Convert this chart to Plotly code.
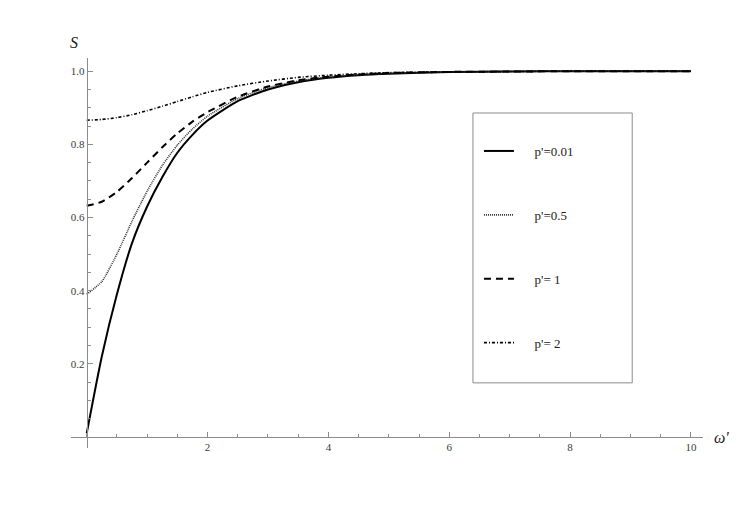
import plotly.graph_objects as go

# ── Data (ω' vs S for four p' values) ────────────────────────────────────────

OMEGA = [0, 0.25, 0.5, 0.75, 1, 1.25, 1.5, 1.75, 2, 2.5, 3, 3.5, 4, 4.5,
         5, 6, 7, 8, 9, 10]

S_P001 = [0.01, 0.22, 0.39, 0.53, 0.63, 0.71, 0.777, 0.826, 0.865, 0.918,
          0.950, 0.970, 0.982, 0.989, 0.993, 0.9975, 0.999, 1.0, 1.0, 1.0]
S_P05 = [0.39, 0.425, 0.50, 0.59, 0.672, 0.742, 0.798, 0.842, 0.877, 0.925,
         0.955, 0.973, 0.984, 0.990, 0.994, 0.998, 0.999, 1.0, 1.0, 1.0]
S_P1 = [0.632, 0.643, 0.670, 0.708, 0.750, 0.792, 0.830, 0.862, 0.888, 0.930,
        0.958, 0.975, 0.985, 0.991, 0.995, 0.998, 0.999, 1.0, 1.0, 1.0]
S_P2 = [0.866, 0.868, 0.873, 0.881, 0.892, 0.904, 0.917, 0.930, 0.942, 0.960,
        0.973, 0.983, 0.989, 0.993, 0.996, 0.998, 0.999, 1.0, 1.0, 1.0]

SERIES = [
    ("p'=0.01", S_P001),
    ("p'=0.5", S_P05),
    ("p'= 1", S_P1),
    ("p'= 2", S_P2),
]

X_TICKS = [2, 4, 6, 8, 10]
Y_TICKS = [0.2, 0.4, 0.6, 0.8, 1.0]

# ── Styling ──────────────────────────────────────────────────────────────────

SERIF = "Liberation Serif"
AXIS_GRAY = "#8c8c8c"
LABEL_COLOR = "#3a3a3a"
GAP = "\u2003\u2009"

LINE_STYLES = [
    dict(color="#000000", width=2, dash="solid"),
    dict(color="#333333", width=1.6, dash="1px,1px"),
    dict(color="#000000", width=2, dash="7px,5px"),
    dict(color="#000000", width=1.6, dash="3px,2px,1px,2px"),
]

X_RANGE = [-0.26, 10.2]
Y_RANGE = [-0.03, 1.036]

fig = go.Figure()
for i, ((name, values), style) in enumerate(zip(SERIES, LINE_STYLES)):
    fig.add_trace(
        go.Scatter(
            x=OMEGA,
            y=values,
            mode="lines",
            name=GAP + name,
            legendgroup=f"g{i}",
            line=dict(shape="spline", smoothing=0.6, **style),
            hoverinfo="x+y+name",
        )
    )

x_pos = (0 - X_RANGE[0]) / (X_RANGE[1] - X_RANGE[0])
y_pos = (0 - Y_RANGE[0]) / (Y_RANGE[1] - Y_RANGE[0])

axis_common = dict(
    showgrid=False,
    zeroline=False,
    showline=True,
    linecolor=AXIS_GRAY,
    linewidth=1,
    ticks="inside",
    ticklen=5,
    tickcolor=AXIS_GRAY,
    tickfont=dict(family=SERIF, size=11, color=LABEL_COLOR),
    anchor="free",
    automargin=False,
)

# page body adds an 8px offset, so margins are shifted to compensate
fig.update_layout(
    width=741,
    height=524,
    paper_bgcolor="white",
    plot_bgcolor="white",
    margin=dict(l=63, r=46, t=50, b=84),
    font=dict(family=SERIF, color=LABEL_COLOR),
    xaxis=dict(
        range=X_RANGE,
        tickmode="array",
        tickvals=X_TICKS,
        ticktext=[str(v) for v in X_TICKS],
        position=y_pos,
        minor=dict(ticks="inside", ticklen=3, tickcolor=AXIS_GRAY,
                   tick0=0, dtick=0.5),
        **axis_common,
    ),
    yaxis=dict(
        range=Y_RANGE,
        tickmode="array",
        tickvals=Y_TICKS,
        ticktext=[f"{v:.1f}" for v in Y_TICKS],
        position=x_pos,
        minor=dict(ticks="inside", ticklen=3, tickcolor=AXIS_GRAY,
                   tick0=0, dtick=0.05),
        **axis_common,
    ),
    showlegend=True,
    legend=dict(
        x=0.6455, y=0.80,
        xanchor="left", yanchor="top",
        bgcolor="rgba(0,0,0,0)",
        borderwidth=0,
        font=dict(family=SERIF, size=13, color="#222222"),
        itemwidth=30,
        tracegroupgap=44,
    ),
    shapes=[
        dict(
            type="rect", xref="paper", yref="paper",
            x0=0.636, x1=0.888, y0=0.167, y1=0.859,
            line=dict(color=AXIS_GRAY, width=1),
            fillcolor="rgba(0,0,0,0)",
            layer="below",
        )
    ],
    annotations=[
        dict(text="<i>S</i>", xref="paper", yref="paper",
             x=0.004, y=1.013, xanchor="center", yanchor="bottom",
             showarrow=False, font=dict(family=SERIF, size=16, color="#222222")),
        dict(text="<i>ω'</i>", xref="paper", yref="paper",
             x=1.015, y=y_pos, xanchor="left", yanchor="middle",
             showarrow=False, font=dict(family=SERIF, size=16, color="#222222")),
    ],
)

fig.write_html("out.html")
